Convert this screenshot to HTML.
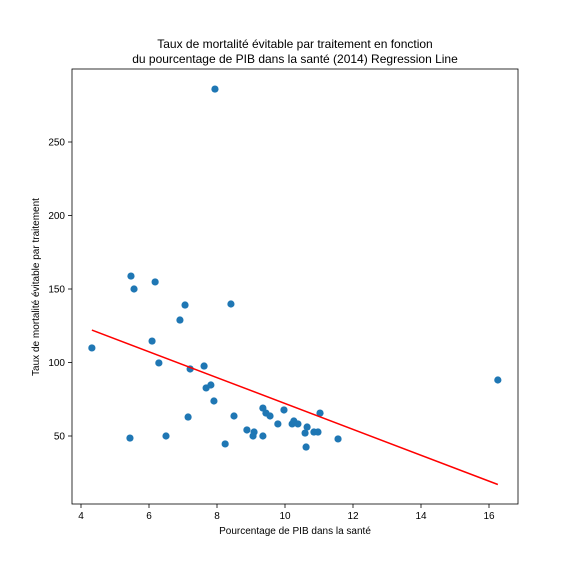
<!DOCTYPE html>
<html><head><meta charset="utf-8"><style>
body{margin:0;background:#fff;font-family:"Liberation Sans",sans-serif}
</style></head><body>
<svg id="chart" width="576" height="576" xmlns="http://www.w3.org/2000/svg" font-family="Liberation Sans, sans-serif">
<rect width="576" height="576" fill="#fff"/>
<text x="295" y="48" text-anchor="middle" font-size="12">Taux de mortalité évitable par traitement en fonction</text>
<text x="295" y="63" text-anchor="middle" font-size="12">du pourcentage de PIB dans la santé (2014) Regression Line</text>
<text x="295" y="534" text-anchor="middle" font-size="10">Pourcentage de PIB dans la santé</text>
<text transform="translate(39,287) rotate(-90)" text-anchor="middle" font-size="10">Taux de mortalité évitable par traitement</text>
<g id="ticks"></g>
<g id="marks"></g>
<rect x="72" y="69" width="446" height="435" fill="none" stroke="#000" stroke-width="0.8"/>
</svg>
<script>
const xs=[4.32,5.44,5.47,5.56,6.09,6.18,6.29,6.5,6.91,7.06,7.94,8.41,16.26,7.21,7.62,7.68,7.82,7.91,7.15,8.5,8.88,9.09,9.06,9.35,9.35,9.44,9.56,9.97,9.79,10.21,10.26,10.38,10.65,10.59,10.62,10.85,10.97,11.03,11.56,8.24];
const ys=[109.9,48.6,158.8,150,114.6,154.8,99.7,50,128.9,139.1,286,139.8,88.1,95.6,97.6,82.7,84.7,73.8,62.9,63.6,54.1,52.7,50,50,69,65.6,63.6,67.7,58.2,58.2,60.2,58.2,56.1,52,42.5,52.7,52.7,65.6,48,44.6];
const xTicks=[4,6,8,10,12,14,16];
const yTicks=[50,100,150,200,250];
const regression=[160.1,-8.8];
const ns="http://www.w3.org/2000/svg";
const X=v=>81+(v-4)*34, Y=v=>436-(v-50)*1.47;
const tg=document.getElementById('ticks'), mg=document.getElementById('marks');
function mk(t,a,p){const e=document.createElementNS(ns,t);for(const k in a)e.setAttribute(k,a[k]);p.appendChild(e);return e;}
xTicks.forEach(t=>{
 const l=mk('line',{x1:X(t),x2:X(t),y1:504,y2:508,stroke:'#000','stroke-width':0.8},tg);
 
 
 const s=mk('text',{x:X(t),y:519,'text-anchor':'middle','font-size':10},tg);s.textContent=t;
 
 
});
yTicks.forEach(t=>{
 const l=mk('line',{x1:68,x2:72,y1:Y(t),y2:Y(t),stroke:'#000','stroke-width':0.8},tg);
 
 
 const s=mk('text',{x:65,y:Y(t)+3.5,'text-anchor':'end','font-size':10},tg);s.textContent=t;
 
 
});
xs.forEach((x,i)=>{
 const c=mk('circle',{cx:X(x),cy:Y(ys[i]),r:3.6,fill:'#1f77b4'},mg);
 
 
});
const x0=Math.min(...xs), x1=Math.max(...xs);
const ln=mk('line',{x1:X(x0),y1:Y(regression[0]+regression[1]*x0),x2:X(x1),y2:Y(regression[0]+regression[1]*x1),stroke:'red','stroke-width':1.5},mg);


</script>
</body></html>
